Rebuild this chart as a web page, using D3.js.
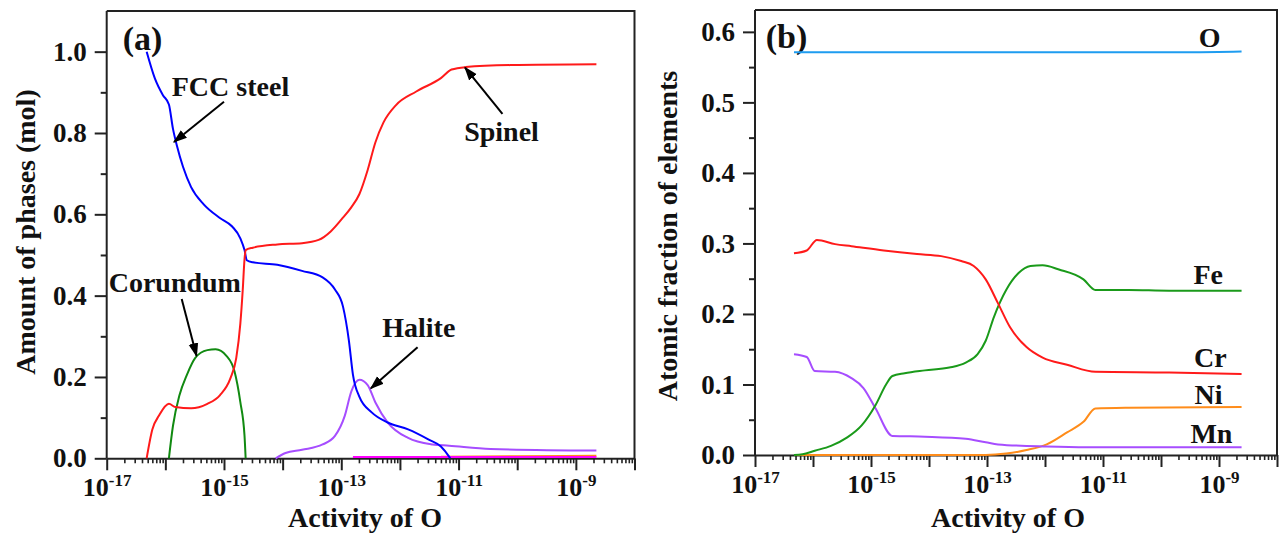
<!DOCTYPE html>
<html>
<head>
<meta charset="utf-8">
<script src="https://cdn.jsdelivr.net/npm/d3@7"></script>
<style>
  body { margin: 0; background: #fff; }
  svg { font-family: "Liberation Serif", "Times New Roman", serif; font-weight: bold; }
</style>
</head>
<body>
<svg id="chart" width="1279" height="534"></svg>
<script>
// ---- panel (a): amount of phases vs activity of O ----
const fccAct = [4.8e-17, 6.6e-17, 9.1e-17, 1.15e-16, 1.35e-16, 1.58e-16, 2.0e-16, 2.75e-16, 4.47e-16, 8.5e-16,
    1.38e-15, 1.9e-15, 2.24e-15, 2.45e-15, 3.1e-15, 8.1e-15, 2.14e-14, 4.8e-14, 7.8e-14, 1.07e-13,
    1.35e-13, 1.58e-13, 2.04e-13, 3.3e-13, 6.2e-13, 1.38e-12, 3.1e-12, 5.0e-12, 6.9e-12, 7.2e-12];
const fccVal = [1.0, 0.935, 0.893, 0.870, 0.81, 0.768, 0.717, 0.667, 0.625, 0.591,
    0.570, 0.541, 0.512, 0.487, 0.482, 0.476, 0.461, 0.445, 0.415, 0.373,
    0.289, 0.206, 0.151, 0.113, 0.088, 0.071, 0.046, 0.029, 0.004, 0.0];

const spinelAct = [4.8e-17, 6.0e-17, 7.8e-17, 1.15e-16, 1.48e-16, 2.75e-16, 5.2e-16, 8.5e-16, 1.29e-15, 1.62e-15,
    1.9e-15, 2.09e-15, 2.24e-15, 2.34e-15, 3.1e-15, 8.1e-15, 2.14e-14, 4.1e-14, 6.6e-14, 1.0e-13,
    1.48e-13, 2.04e-13, 2.82e-13, 3.8e-13, 5.25e-13, 8.5e-13, 1.9e-12, 5.0e-12, 7.6e-12, 1.32e-11,
    7.8e-11, 2.24e-9];
const spinelVal = [0.0, 0.071, 0.105, 0.134, 0.126, 0.123, 0.134, 0.155, 0.197, 0.247,
    0.331, 0.415, 0.49, 0.512, 0.518, 0.526, 0.529, 0.537, 0.558, 0.587,
    0.617, 0.650, 0.709, 0.776, 0.826, 0.868, 0.902, 0.935, 0.956, 0.962,
    0.967, 0.969];

const corundumAct = [1.15e-16, 1.35e-16, 1.74e-16, 2.34e-16, 3.24e-16, 5.2e-16, 7.2e-16, 1.1e-15, 1.51e-15, 1.9e-15, 2.24e-15, 2.34e-15];
const corundumVal = [0.0, 0.08, 0.155, 0.206, 0.247, 0.266, 0.268, 0.252, 0.214, 0.138, 0.055, 0.0];

const haliteAct = [7.6e-15, 1.12e-14, 2.14e-14, 4.8e-14, 7.8e-14, 1.15e-13, 1.48e-13, 2.04e-13, 2.82e-13, 3.8e-13,
    6.2e-13, 1.38e-12, 3.6e-12, 6.9e-12, 3.5e-11, 2.24e-9];
const haliteVal = [0.0, 0.013, 0.021, 0.034, 0.055, 0.105, 0.164, 0.193, 0.180, 0.138,
    0.088, 0.050, 0.034, 0.031, 0.023, 0.019];

const minorOrangeAct = [5.0e-12, 1.0e-10, 2.24e-9];
const minorOrangeVal = [0.004, 0.005, 0.006];
const minorMagentaAct = [1.58e-13, 1.0e-11, 2.24e-9];
const minorMagentaVal = [0.003, 0.003, 0.003];

// ---- panel (b): atomic fraction of elements ----
const oAct = [4.7e-17, 3.2e-10, 2.45e-9];
const oVal = [0.571, 0.571, 0.572];

const feAct = [4.7e-17, 6.6e-17, 1.07e-16, 2.04e-16, 3.9e-16, 6.9e-16, 1.2e-15, 1.82e-15, 2.34e-15, 3.8e-15,
    8.5e-15, 2.24e-14, 4.3e-14, 6.9e-14, 9.5e-14, 1.32e-13, 2.14e-13, 3.5e-13, 5.6e-13, 9.1e-13,
    1.74e-12, 4.6e-12, 7.4e-12, 2.75e-11, 1.38e-10, 2.45e-9];
const feVal = [0.0, 0.001, 0.006, 0.013, 0.025, 0.042, 0.071, 0.100, 0.112, 0.116,
    0.120, 0.124, 0.131, 0.143, 0.162, 0.196, 0.234, 0.258, 0.268, 0.269,
    0.263, 0.249, 0.234, 0.234, 0.233, 0.233];

const crAct = [4.7e-17, 7.8e-17, 1.17e-16, 2.4e-16, 4.6e-16, 1.66e-15, 6.2e-15, 1.62e-14, 3.6e-14, 5.9e-14,
    9.5e-14, 1.55e-13, 2.5e-13, 4.8e-13, 9.1e-13, 2.4e-12, 7.4e-12, 1.38e-10, 2.45e-9];
const crVal = [0.286, 0.290, 0.305, 0.299, 0.296, 0.290, 0.285, 0.282, 0.275, 0.268,
    0.249, 0.215, 0.181, 0.153, 0.138, 0.128, 0.118, 0.117, 0.115];

const mnAct = [4.7e-17, 7.8e-17, 1.07e-16, 2.4e-16, 4.6e-16, 7.4e-16, 1.2e-15, 2.34e-15, 8.5e-15, 4.3e-14,
    9.5e-14, 1.55e-13, 1.07e-12, 5.4e-12, 2.45e-9];
const mnVal = [0.143, 0.139, 0.119, 0.118, 0.109, 0.095, 0.066, 0.027, 0.026, 0.023,
    0.018, 0.015, 0.012, 0.011, 0.011];

const niAct = [4.7e-17, 9.5e-14, 2.14e-13, 4.8e-13, 1.07e-12, 2.4e-12, 4.6e-12, 7.4e-12, 2.75e-11, 2.45e-9];
const niVal = [0.0, 0.0, 0.002, 0.007, 0.015, 0.032, 0.047, 0.066, 0.067, 0.068];

// axis ticks
const xMajorTicks = [1e-17, 1e-16, 1e-15, 1e-14, 1e-13, 1e-12, 1e-11, 1e-10, 1e-9, 1e-8];
const yTicksA = [0.0, 0.2, 0.4, 0.6, 0.8, 1.0];
const yMinorA = [0.1, 0.3, 0.5, 0.7, 0.9];
const yTicksB = [0.0, 0.1, 0.2, 0.3, 0.4, 0.5, 0.6];
const yMinorB = [0.05, 0.15, 0.25, 0.35, 0.45, 0.55];

// annotations: [text, activity, value]
const labelsA = [["FCC steel", 1.29e-15, 0.891], ["Spinel", 5.4e-11, 0.780], ["Corundum", 1.45e-16, 0.409], ["Halite", 2.1e-12, 0.298]];
// arrows: [fromAct, fromVal, toAct, toVal]
const arrowsA = [[1.0e-15, 0.877, 1.41e-16, 0.778], [5.6e-11, 0.847, 1.29e-11, 0.961],
    [1.9e-16, 0.392, 3.4e-16, 0.252], [2.0e-12, 0.273, 3.2e-13, 0.172]];
const labelsB = [["O", 6.9e-10, 0.578], ["Fe", 6.5e-10, 0.242], ["Cr", 7.1e-10, 0.125], ["Ni", 6.6e-10, 0.073], ["Mn", 7.4e-10, 0.017]];

const svg = d3.select("#chart");

svg.append("defs").append("marker")
    .attr("id", "arrow")
    .attr("viewBox", "0 0 10 10")
    .attr("refX", 9).attr("refY", 5)
    .attr("markerWidth", 7).attr("markerHeight", 7)
    .attr("markerUnits", "strokeWidth")
    .attr("orient", "auto")
    .append("path").attr("d", "M0,1.5 L10,5 L0,8.5 Z").attr("fill", "#000");

function drawPanel(p) {
    const x = d3.scaleLog().domain([1e-17, 1e-8]).range([p.left, p.right]);
    const y = d3.scaleLinear().domain([0, p.ymax]).range([p.bottom, p.top]);
    const g = svg.append("g");

    // frame top / right
    g.append("path")
        .attr("d", `M${p.left},${p.top}H${p.right}V${p.bottom}`)
        .attr("fill", "none").attr("stroke", "#222").attr("stroke-width", 2);

    // x minor ticks
    const minor = [];
    for (let e = -17; e < -8; e++) for (let m = 2; m < 10; m++) minor.push(+(m + "e" + e));
    g.append("g").attr("transform", `translate(0,${p.bottom})`)
        .call(d3.axisBottom(x).tickValues(minor).tickSize(5).tickFormat(""))
        .call(s => s.select(".domain").remove())
        .call(s => s.selectAll("line").attr("stroke", "#222").attr("stroke-width", 1.6));

    const xa = g.append("g").attr("transform", `translate(0,${p.bottom})`)
        .call(d3.axisBottom(x).tickValues(xMajorTicks).tickSize(12).tickSizeOuter(0));
    xa.select(".domain").attr("stroke", "#222").attr("stroke-width", 2);
    xa.selectAll("line").attr("stroke", "#222").attr("stroke-width", 2);
    xa.selectAll(".tick text").each(function (d) {
        const e = Math.round(Math.log10(d));
        const t = d3.select(this).text("").attr("y", 38).attr("dy", 0)
            .attr("font-size", 26).attr("fill", "#111").attr("font-family", "Liberation Serif").attr("font-weight", "bold");
        if (Math.abs(e) % 2 === 1 && e < -8) {
            t.append("tspan").text("10");
            t.append("tspan").attr("font-size", 17).attr("dy", -10).text(String(e));
        }
    });

    // y axis
    g.append("g").attr("transform", `translate(${p.left},0)`)
        .call(d3.axisLeft(y).tickValues(p.yMinor).tickSize(6).tickFormat(""))
        .call(s => s.select(".domain").remove())
        .call(s => s.selectAll("line").attr("stroke", "#222").attr("stroke-width", 2));
    const ya = g.append("g").attr("transform", `translate(${p.left},0)`)
        .call(d3.axisLeft(y).tickValues(p.yTicks).tickSize(12).tickSizeOuter(0).tickPadding(8).tickFormat(d3.format(".1f")));
    ya.select(".domain").attr("stroke", "#222").attr("stroke-width", 2)
        .attr("d", `M0,${p.bottom}V${p.top}`);
    ya.selectAll("line").attr("stroke", "#222").attr("stroke-width", 2);
    ya.selectAll("text").attr("font-size", 27).attr("fill", "#111")
        .attr("font-family", "Liberation Serif").attr("font-weight", "bold");

    // titles
    g.append("text").attr("x", p.xTitleX).attr("y", 527).attr("text-anchor", "middle")
        .attr("font-size", 28).attr("fill", "#111").text("Activity of O");
    g.append("text").attr("transform", `translate(${p.yTitleX},${p.yTitleY}) rotate(-90)`)
        .attr("text-anchor", "middle").attr("dy", "0.35em")
        .attr("font-size", 28).attr("fill", "#111").text(p.yTitle);
    g.append("text").attr("x", x(p.tag[1])).attr("y", y(p.tag[2])).attr("text-anchor", "middle")
        .attr("font-size", 34).attr("fill", "#111").text(p.tag[0]);

    // series
    const line = d3.line().x(d => x(d[0])).y(d => y(d[1])).curve(d3.curveMonotoneX);
    p.series.forEach(s => {
        g.append("path")
            .datum(d3.zip(s.act, s.val))
            .attr("d", line)
            .attr("fill", "none").attr("stroke", s.color).attr("stroke-width", 2);
    });

    // labels & arrows
    p.labels.forEach(l => {
        g.append("text").attr("x", x(l[1])).attr("y", y(l[2])).attr("text-anchor", "middle")
            .attr("font-size", 28).attr("fill", "#111").text(l[0]);
    });
    (p.arrows || []).forEach(a => {
        g.append("line")
            .attr("x1", x(a[0])).attr("y1", y(a[1])).attr("x2", x(a[2])).attr("y2", y(a[3]))
            .attr("stroke", "#000").attr("stroke-width", 2).attr("marker-end", "url(#arrow)");
    });
}

drawPanel({
    left: 106.7, right: 634.5, top: 11, bottom: 458.3, ymax: 1.1,
    yTicks: yTicksA, yMinor: yMinorA,
    xTitleX: 365, yTitleX: 25, yTitleY: 232, yTitle: "Amount of phases (mol)",
    tag: ["(a)", 4.1e-17, 1.004],
    series: [
        { act: minorOrangeAct, val: minorOrangeVal, color: "#ff8c1a" },
        { act: minorMagentaAct, val: minorMagentaVal, color: "#ff00ff" },
        { act: corundumAct, val: corundumVal, color: "#118a11" },
        { act: haliteAct, val: haliteVal, color: "#a64dff" },
        { act: fccAct, val: fccVal, color: "#0000ff" },
        { act: spinelAct, val: spinelVal, color: "#ff1a1a" }
    ],
    labels: labelsA, arrows: arrowsA
});

drawPanel({
    left: 755, right: 1277, top: 10, bottom: 455, ymax: 0.631,
    yTicks: yTicksB, yMinor: yMinorB,
    xTitleX: 1008, yTitleX: 667, yTitleY: 236, yTitle: "Atomic fraction of elements",
    tag: ["(b)", 3.5e-17, 0.577],
    series: [
        { act: oAct, val: oVal, color: "#1e9cf0" },
        { act: niAct, val: niVal, color: "#ff8c1a" },
        { act: mnAct, val: mnVal, color: "#a64dff" },
        { act: feAct, val: feVal, color: "#1a9a1a" },
        { act: crAct, val: crVal, color: "#ff1a1a" }
    ],
    labels: labelsB
});
</script>
</body>
</html>
